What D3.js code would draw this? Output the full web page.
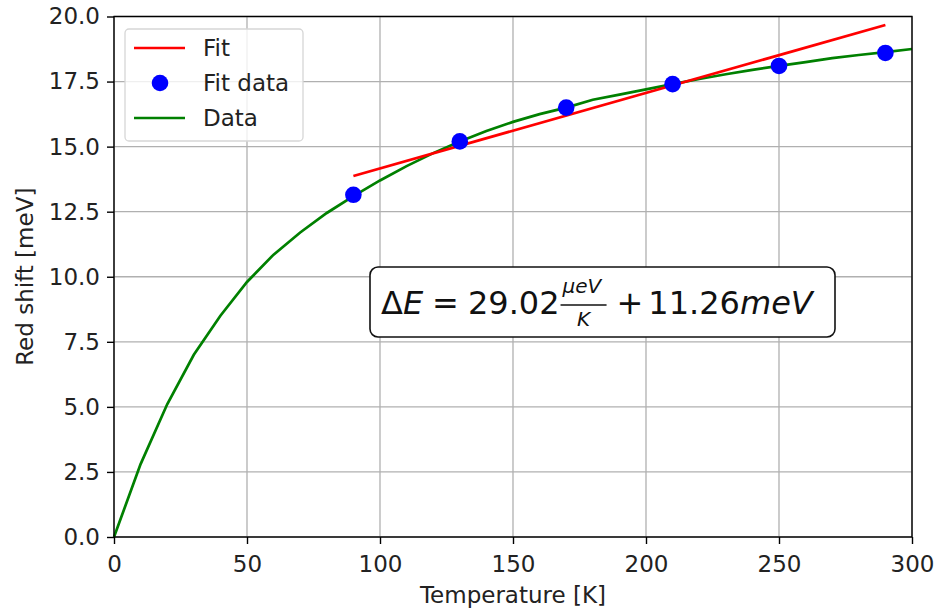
<!DOCTYPE html>
<html><head><meta charset="utf-8">
<script src="https://cdn.jsdelivr.net/npm/d3@7"></script>
<style>body{margin:0;background:#fff}svg{display:block}text{font-family:"DejaVu Sans",sans-serif}</style>
</head><body>
<script>
const dataT = [0,10,20,30,40,50,60,70,80,90,100,110,120,130,140,150,160,170,180,190,200,210,220,230,240,250,260,270,280,290,300];
const dataE = [0,2.8,5.1,7.0,8.5,9.8,10.85,11.7,12.45,13.1,13.7,14.25,14.75,15.2,15.6,15.95,16.25,16.5,16.8,17.0,17.2,17.4,17.6,17.78,17.95,18.1,18.25,18.4,18.52,18.63,18.75];
const fitT = [90,130,170,210,250,290];
const fitE = [13.15,15.2,16.5,17.4,18.1,18.6];
const slope = 0.02902, intercept = 11.26;
const xTicks = [0,50,100,150,200,250,300];
const yTicks = [0,2.5,5,7.5,10,12.5,15,17.5,20];

const W=936,H=613;
const m={l:114,r:24,t:16.5,b:76};
const FS=23;
const svg=d3.select("body").append("svg").attr("width",W).attr("height",H);
const x=d3.scaleLinear().domain([0,300]).range([m.l,W-m.r]);
const y=d3.scaleLinear().domain([0,20]).range([H-m.b,m.t]);

// grid
svg.append("g").selectAll("line").data(xTicks).join("line")
  .attr("x1",d=>x(d)).attr("x2",d=>x(d)).attr("y1",y(0)).attr("y2",y(20))
  .attr("stroke","#b0b0b0").attr("stroke-width",1.3);
svg.append("g").selectAll("line").data(yTicks).join("line")
  .attr("y1",d=>y(d)).attr("y2",d=>y(d)).attr("x1",x(0)).attr("x2",x(300))
  .attr("stroke","#b0b0b0").attr("stroke-width",1.3);

// axes
const xa=svg.append("g").attr("transform",`translate(0,${y(0)})`)
  .call(d3.axisBottom(x).tickValues(xTicks).tickFormat(d3.format("d")).tickSize(7).tickPadding(6));
const ya=svg.append("g").attr("transform",`translate(${x(0)},0)`)
  .call(d3.axisLeft(y).tickValues(yTicks).tickFormat(d3.format(".1f")).tickSize(7).tickPadding(7));
[xa,ya].forEach(a=>{a.select(".domain").remove();a.selectAll("line").attr("stroke","#000").attr("stroke-width",1.4);
  a.selectAll("text").attr("font-size",FS).attr("fill","#222").attr("font-family","DejaVu Sans");});
xa.selectAll("text").attr("dy",null).attr("y",35);

// data line
const line=d3.line().x((d,i)=>x(dataT[i])).y(d=>y(d));
svg.append("path").attr("d",line(dataE)).attr("fill","none").attr("stroke","#008000").attr("stroke-width",2.7);
// fit line
const fitLine=[fitT[0],fitT[fitT.length-1]];
svg.append("line").attr("x1",x(fitLine[0])).attr("y1",y(intercept+slope*fitLine[0]))
  .attr("x2",x(fitLine[1])).attr("y2",y(intercept+slope*fitLine[1]))
  .attr("stroke","#ff0000").attr("stroke-width",2.7);
// points
svg.append("g").selectAll("circle").data(fitE).join("circle")
  .attr("cx",(d,i)=>x(fitT[i])).attr("cy",d=>y(d)).attr("r",8.3).attr("fill","#0000ff");

// frame
svg.append("rect").attr("x",x(0)).attr("y",y(20)).attr("width",x(300)-x(0)).attr("height",y(0)-y(20))
  .attr("fill","none").attr("stroke","#000").attr("stroke-width",1.4);

// labels
svg.append("text").attr("x",(x(0)+x(300))/2).attr("y",603).attr("text-anchor","middle")
  .attr("font-size",FS).attr("fill","#222").text("Temperature [K]");
svg.append("text").attr("transform",`translate(33,${(y(0)+y(20))/2}) rotate(-90)`).attr("text-anchor","middle")
  .attr("font-size",FS).attr("fill","#222").text("Red shift [meV]");

// legend
const lg=svg.append("g");
lg.append("rect").attr("x",125).attr("y",29).attr("width",178).attr("height",112).attr("rx",4)
  .attr("fill","#fff").attr("fill-opacity",0.8).attr("stroke","#d6d6d6").attr("stroke-width",1.3);
const items=[{t:"Fit",k:"line",c:"#ff0000"},{t:"Fit data",k:"dot",c:"#0000ff"},{t:"Data",k:"line",c:"#008000"}];
items.forEach((it,i)=>{
  const yy=48+i*35;
  if(it.k==="line") lg.append("line").attr("x1",134).attr("x2",185).attr("y1",yy).attr("y2",yy).attr("stroke",it.c).attr("stroke-width",2.7);
  else lg.append("circle").attr("cx",160).attr("cy",yy).attr("r",8.3).attr("fill",it.c);
  lg.append("text").attr("x",203).attr("y",yy).attr("dy","0.36em").attr("font-size",FS).attr("fill","#222").text(it.t);
});

// equation box
const eq=svg.append("g");
eq.append("rect").attr("x",370).attr("y",267).attr("width",465).attr("height",70).attr("rx",8)
  .attr("fill","#fff").attr("stroke","#111").attr("stroke-width",1.6);
const base=314, fs=32;
const t1=eq.append("text").attr("x",381).attr("y",base).attr("font-size",fs).attr("fill","#111");
t1.append("tspan").text("Δ");
t1.append("tspan").attr("font-style","italic").text("E");
t1.append("tspan").attr("dx",9).text("=");
t1.append("tspan").attr("dx",9).text("29.02");
const b1=t1.node().getBBox();
const fx0=b1.x+b1.width+1;
const num=eq.append("text").attr("x",fx0+2).attr("y",293).attr("font-size",20).attr("font-style","italic").attr("fill","#111").text("μeV");
const nb=num.node().getBBox();
const fx1=nb.x+nb.width+4;
eq.append("line").attr("x1",fx0).attr("x2",fx1).attr("y1",305).attr("y2",305).attr("stroke","#111").attr("stroke-width",1.4);
eq.append("text").attr("x",(fx0+fx1)/2).attr("y",326).attr("text-anchor","middle").attr("font-size",20).attr("font-style","italic").attr("fill","#111").text("K");
const t2=eq.append("text").attr("x",fx1+10).attr("y",base).attr("font-size",fs).attr("fill","#111");
t2.append("tspan").text("+");
t2.append("tspan").attr("dx",5).text("11.26");
t2.append("tspan").attr("font-style","italic").text("meV");
</script>
</body></html>
